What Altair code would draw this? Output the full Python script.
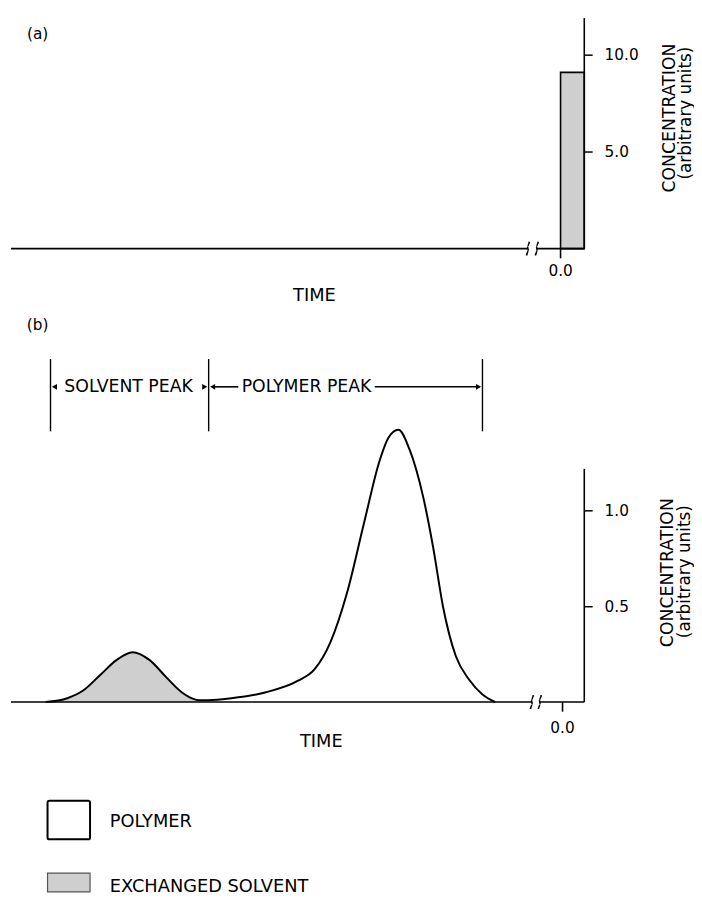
import altair as alt
import pandas as pd

FONT = "DejaVu Sans"
GREY = "#cfcfcf"

# ---------------- data ----------------
TIME_DOMAIN = [-55.6, 2.4]   # arbitrary time units, 0.0 at the reference mark

# (a) injected exchange-solvent pulse
A_PULSE_START = [0.0]
A_PULSE_END = [2.4]
A_PULSE_CONC = [9.1]
A_TICK_VALUES = [5.0, 10.0]
A_AXIS_TOP = 11.9

# (b) elution profile
B_SOLVENT_TIME = [-52.1, -49.9, -48.3, -46.6, -44.9, -43.3, -41.6, -39.9, -38.3, -36.6]
B_SOLVENT_CONC = [0.0, 0.02, 0.06, 0.14, 0.22, 0.26, 0.22, 0.13, 0.05, 0.01]
B_POLYMER_TIME = [-35.6, -33.3, -29.9, -26.6, -24.9, -23.3, -21.6, -19.9, -18.3, -17.4,
                  -16.4, -15.3, -13.9, -12.9, -11.9, -10.6, -9.3, -7.9, -6.6]
B_POLYMER_CONC = [0.01, 0.02, 0.05, 0.11, 0.17, 0.31, 0.57, 0.93, 1.26, 1.38,
                  1.42, 1.32, 1.07, 0.81, 0.50, 0.24, 0.12, 0.04, 0.0]
B_TICK_VALUES = [0.5, 1.0]
B_AXIS_TOP = 1.216
B_REGION_EDGES = [-51.6, -35.6, -7.9]
B_REGION_LABELS = ["SOLVENT PEAK", "POLYMER PEAK"]
LEGEND_LABELS = ["POLYMER", "EXCHANGED SOLVENT"]

# ---------------- scales ----------------
PLOT_W = 580
PLOT_H = 884
A_Y_DOMAIN = [-33.2, 11.9]
B_Y_DOMAIN = [-0.99, 3.567]

xs = alt.Scale(domain=TIME_DOMAIN, nice=False, zero=False)
ya_s = alt.Scale(domain=A_Y_DOMAIN, nice=False, zero=False)
yb_s = alt.Scale(domain=B_Y_DOMAIN, nice=False, zero=False)


def axis_for(values):
    return alt.Axis(orient="right", values=values, format=".1f", domain=False, grid=False,
                    ticks=True, tickSize=8, tickWidth=1.5, tickColor="black",
                    labelPadding=12, labelFontSize=15.5, labelFont=FONT, labelColor="black")


AX_A = axis_for(A_TICK_VALUES)
AX_B = axis_for(B_TICK_VALUES)


def xe(f="t"):
    return alt.X(f"{f}:Q", scale=xs, axis=None)


def yae(f="ya"):
    return alt.Y(f"{f}:Q", scale=ya_s, axis=AX_A, title=None)


def ybe(f="yb"):
    return alt.Y(f"{f}:Q", scale=yb_s, axis=AX_B, title=None)


def hseg(df, yenc):
    return alt.Chart(df).mark_rule(color="black", strokeWidth=1.6).encode(
        x=xe("t"), x2=alt.X2("t2:Q"), y=yenc)


def vseg(df, yenc, y2name, width=1.6):
    return alt.Chart(df).mark_rule(color="black", strokeWidth=width).encode(
        x=xe("t"), y=yenc, y2=alt.Y2(f"{y2name}:Q"))


def texts(df, yenc, size, angle=0, align="center"):
    return alt.Chart(df).mark_text(font=FONT, fontSize=size, angle=angle, align=align,
                                   baseline="middle", color="black").encode(
        x=xe("t"), y=yenc, text="label:N")


def breaks(centers, yfield, yenc, ypx):
    rows = []
    shape = [(1.5, -7), (-0.5, -2.5), (0.5, 2.5), (-1.5, 7)]
    for i, c in enumerate(centers):
        for k, (dx, dy) in enumerate(shape):
            rows.append({"id": i, "k": k, "t": c + dx / 10.0, yfield: -dy / ypx})
    return alt.Chart(pd.DataFrame(rows)).mark_line(color="black", strokeWidth=1.6,
                                                    interpolate="monotone").encode(
        x=xe("t"), y=yenc, detail="id:N", order="k:Q")


# ---------------- panel (a) ----------------
a_base = hseg(pd.DataFrame({"t": [TIME_DOMAIN[0], -2.4], "t2": [-3.3, A_PULSE_END[0]], "ya": [0, 0]}), yae())
a_axis = vseg(pd.DataFrame({"t": [A_PULSE_END[0]], "ya": [0], "ya2": [A_AXIS_TOP]}), yae(), "ya2")
a_tick0 = vseg(pd.DataFrame({"t": [0.0], "ya": [0], "ya2": [-0.5]}), yae(), "ya2")
a_pulse = alt.Chart(pd.DataFrame({"t": A_PULSE_START, "t2": A_PULSE_END, "ya": A_PULSE_CONC, "ya2": [0.0]})).mark_rect(
    fill=GREY, stroke="black", strokeWidth=1.6).encode(x=xe("t"), x2=alt.X2("t2:Q"), y=yae(), y2=alt.Y2("ya2:Q"))
a_breaks = breaks([-3.3, -2.4], "ya", yae(), 19.6)
a_small = texts(pd.DataFrame({"t": [-52.9, 0.0], "ya": [11.08, -1.16], "label": ["(a)", "0.0"]}), yae(), 15.5)
a_time = texts(pd.DataFrame({"t": [-24.9], "ya": [-2.44], "label": ["TIME"]}), yae(), 18)
a_t1 = texts(pd.DataFrame({"t": [11.1], "ya": [6.74], "label": ["CONCENTRATION"]}), yae(), 17.5, angle=270)
a_t2 = texts(pd.DataFrame({"t": [12.7], "ya": [7.0], "label": ["(arbitrary units)"]}), yae(), 17, angle=270)

panel_a = alt.layer(a_pulse, a_base, a_axis, a_tick0, a_breaks, a_small, a_time, a_t1, a_t2)

# ---------------- panel (b) ----------------
solvent = pd.DataFrame({"t": B_SOLVENT_TIME, "yb": B_SOLVENT_CONC})
outline = pd.DataFrame({"t": B_SOLVENT_TIME + B_POLYMER_TIME, "yb": B_SOLVENT_CONC + B_POLYMER_CONC})

b_area = alt.Chart(solvent).mark_area(color=GREY, interpolate="monotone").encode(x=xe("t"), y=ybe())
b_line = alt.Chart(outline).mark_line(color="black", strokeWidth=2, interpolate="monotone").encode(x=xe("t"), y=ybe())
b_base = hseg(pd.DataFrame({"t": [TIME_DOMAIN[0], -2.1], "t2": [-2.9, TIME_DOMAIN[1]], "yb": [0, 0]}), ybe())
b_axis = vseg(pd.DataFrame({"t": [TIME_DOMAIN[1]], "yb": [0], "yb2": [B_AXIS_TOP]}), ybe(), "yb2")
b_tick0 = vseg(pd.DataFrame({"t": [0.2], "yb": [0], "yb2": [-0.05]}), ybe(), "yb2")
b_breaks = breaks([-2.9, -2.1], "yb", ybe(), 194.0)

b_edges = vseg(pd.DataFrame({"t": B_REGION_EDGES, "yb": [1.412] * 3, "yb2": [1.789] * 3}), ybe(), "yb2", width=1.4)
b_arrowlines = hseg(pd.DataFrame({"t": [-35.0, -18.8], "t2": [-32.6, -8.2], "yb": [1.644, 1.644]}), ybe())
heads = pd.DataFrame({"t": [-51.2, -36.0, -35.2, -8.3], "yb": [1.644] * 4,
                      "dir": ["triangle-left", "triangle-right", "triangle-left", "triangle-right"]})
b_heads = alt.Chart(heads).mark_point(filled=True, color="black", size=35, opacity=1).encode(
    x=xe("t"), y=ybe(), shape=alt.Shape("dir:N", scale=None))
b_region_txt = texts(pd.DataFrame({"t": [-43.7, -25.7], "yb": [1.644, 1.644], "label": B_REGION_LABELS}), ybe(), 17.5)

b_small = texts(pd.DataFrame({"t": [-52.9, 0.2], "yb": [1.964, -0.134], "label": ["(b)", "0.0"]}), ybe(), 15.5)
b_time = texts(pd.DataFrame({"t": [-24.2], "yb": [-0.211], "label": ["TIME"]}), ybe(), 18)
b_t1 = texts(pd.DataFrame({"t": [10.9], "yb": [0.675], "label": ["CONCENTRATION"]}), ybe(), 17.5, angle=270)
b_t2 = texts(pd.DataFrame({"t": [12.6], "yb": [0.68], "label": ["(arbitrary units)"]}), ybe(), 17, angle=270)

# legend
leg_box1 = alt.Chart(pd.DataFrame({"t": [-51.9], "t2": [-47.6], "yb": [-0.515], "yb2": [-0.716]})).mark_rect(
    fill="white", stroke="black", strokeWidth=2, cornerRadius=2).encode(x=xe("t"), x2=alt.X2("t2:Q"), y=ybe(), y2=alt.Y2("yb2:Q"))
leg_box2 = alt.Chart(pd.DataFrame({"t": [-51.9], "t2": [-47.6], "yb": [-0.892], "yb2": [-0.99]})).mark_rect(
    fill=GREY, stroke="#555555", strokeWidth=1.2).encode(x=xe("t"), x2=alt.X2("t2:Q"), y=ybe(), y2=alt.Y2("yb2:Q"))
leg_txt = texts(pd.DataFrame({"t": [-45.6, -45.6], "yb": [-0.624, -0.964], "label": LEGEND_LABELS}), ybe(), 18, align="left")

panel_b = alt.layer(b_area, b_line, b_base, b_axis, b_tick0, b_breaks, b_edges, b_arrowlines, b_heads,
                    b_region_txt, b_small, b_time, b_t1, b_t2, leg_box1, leg_box2, leg_txt)

chart = alt.layer(panel_a, panel_b).resolve_scale(y="independent").properties(
    width=PLOT_W, height=PLOT_H, padding={"left": 2, "top": 4, "right": 0, "bottom": 0},
    background="white"
).configure_view(stroke=None)

chart.save("out.html", embed_options={"renderer": "svg", "actions": False})
